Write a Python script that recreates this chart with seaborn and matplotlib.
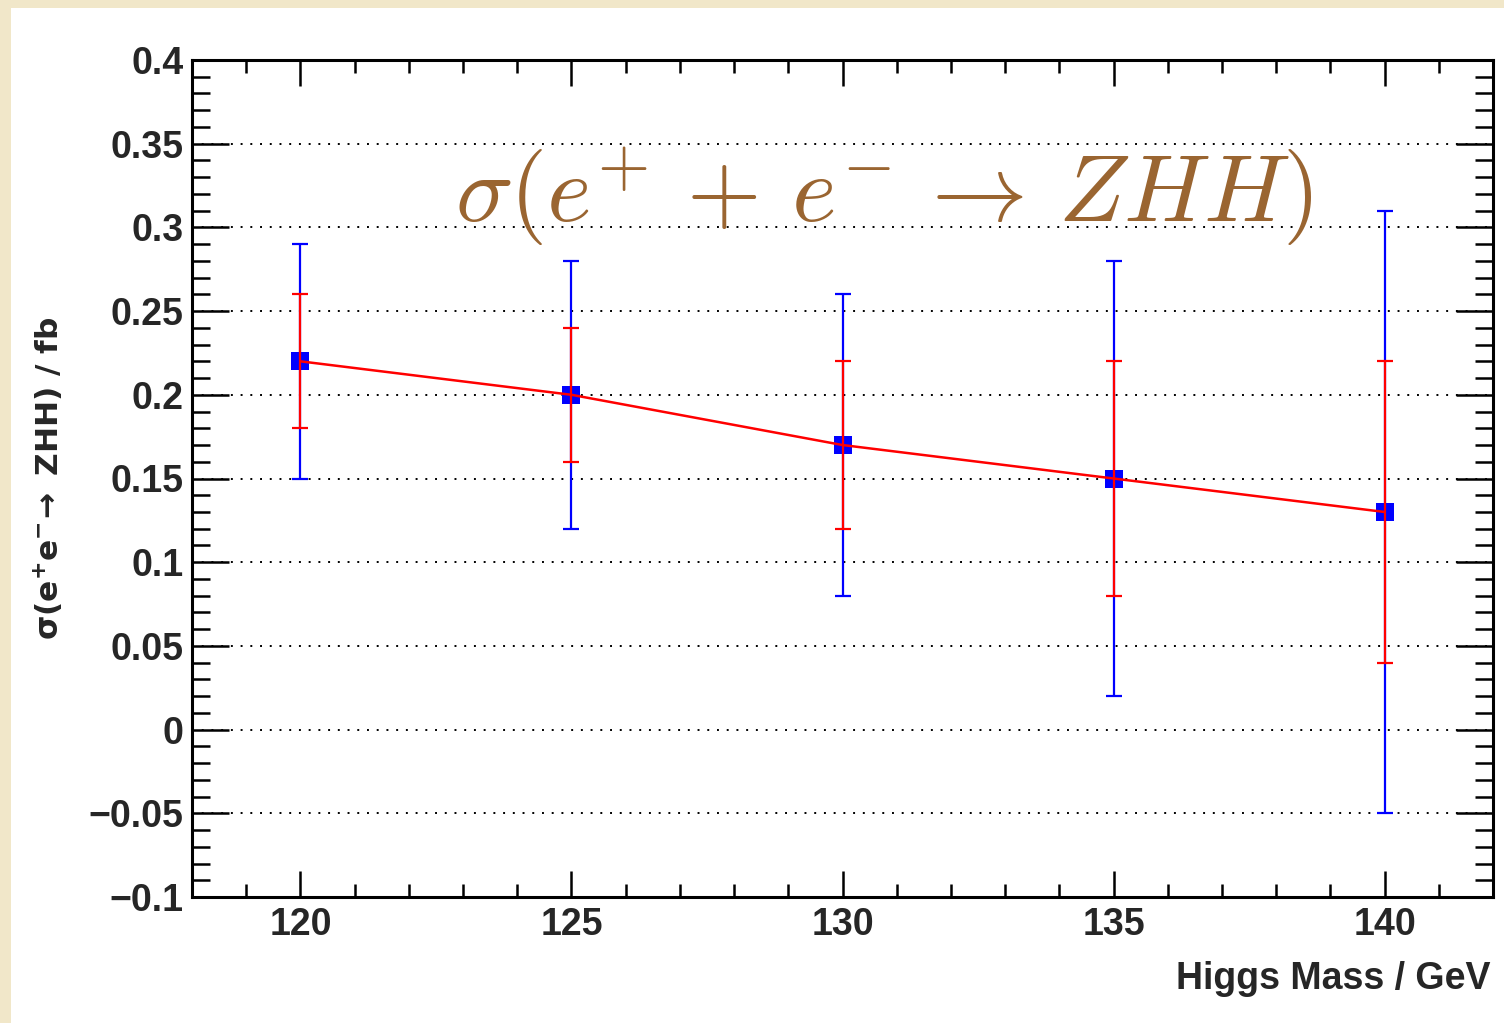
import numpy as np
import pandas as pd
import matplotlib
matplotlib.use("Agg")
import matplotlib.pyplot as plt
from matplotlib.ticker import MultipleLocator
from matplotlib.patches import Rectangle
import seaborn as sns

# Higgs mass points and cross sections
higgs_mass = [120, 125, 130, 135, 140]
xsec = [0.22, 0.20, 0.17, 0.15, 0.13]
# Larger (blue) and smaller (red) uncertainty bands
err_blue = [0.07, 0.08, 0.09, 0.13, 0.18]
err_red = [0.04, 0.04, 0.05, 0.07, 0.09]

df = pd.DataFrame({"mass": higgs_mass, "xsec": xsec})

sns.set_theme(style="white")
plt.rcParams["font.family"] = ["Liberation Sans", "DejaVu Sans"]
plt.rcParams["font.weight"] = "bold"

fig = plt.figure(figsize=(15.04, 10.23), dpi=100, facecolor="#F1E7C9")
fig.patches.append(Rectangle((11 / 1504, 0), 1, 1 - 8 / 1023, transform=fig.transFigure,
                             facecolor="white", edgecolor="none", zorder=-10))
ax = fig.add_axes([192 / 1504, 1 - 897 / 1023, (1493 - 192) / 1504, (897 - 60) / 1023])
ax.set_zorder(5)
ax.set_facecolor("white")

# error bars: blue (outer) first, red (inner) on top
ax.errorbar(higgs_mass, xsec, yerr=err_blue, fmt="none", ecolor="#0000FF",
            elinewidth=1.6, capsize=5.8, capthick=1.6, zorder=3)
sns.scatterplot(data=df, x="mass", y="xsec", marker="s", s=150, color="#0000FF",
                edgecolor="#0000FF", linewidth=0, ax=ax, zorder=4)
ax.errorbar(higgs_mass, xsec, yerr=err_red, fmt="none", ecolor="#FF0000",
            elinewidth=1.6, capsize=5.8, capthick=1.6, zorder=5)
sns.lineplot(data=df, x="mass", y="xsec", color="#FF0000", linewidth=1.8, ax=ax, zorder=6)

ax.set_xlim(118, 142)
ax.set_ylim(-0.1, 0.4)

ax.xaxis.set_major_locator(MultipleLocator(5))
ax.xaxis.set_minor_locator(MultipleLocator(1))
ax.yaxis.set_minor_locator(MultipleLocator(0.01))
ax.set_yticks(np.round(np.arange(-0.1, 0.401, 0.05), 2))
ax.set_yticklabels(["−0.1", "−0.05", "0", "0.05", "0.1", "0.15", "0.2", "0.25", "0.3", "0.35", "0.4"])

ax.tick_params(axis="x", which="major", direction="in", length=18.5, width=1.8,
               top=True, bottom=True, labelsize=27, pad=7, color="black")
ax.tick_params(axis="x", which="minor", direction="in", length=9.3, width=1.8,
               top=True, bottom=True, color="black")
ax.tick_params(axis="y", which="major", direction="in", length=26.5, width=1.8,
               left=True, right=True, labelsize=27, pad=6, color="black")
ax.tick_params(axis="y", which="minor", direction="in", length=13, width=1.8,
               left=True, right=True, color="black")
for lbl in ax.get_xticklabels() + ax.get_yticklabels():
    lbl.set_fontweight("bold")

for sp in ax.spines.values():
    sp.set_visible(True)
    sp.set_color("black")
    sp.set_linewidth(2.2)

ax.grid(False)
ax.yaxis.grid(True, which="major", linestyle=(0, (1, 4)), linewidth=1.4, color="black")
ax.set_axisbelow(True)

ax.set_xlabel("Higgs Mass / GeV", fontsize=27, fontweight="bold", ha="right")
ax.xaxis.set_label_coords(0.998, -0.076)
ax.set_ylabel(r"$\mathrm{\sigma}\mathbf{(e^{+}e^{-}}\!\rightarrow\mathbf{\ ZHH)\ /\ fb}$",
              fontsize=22.5, math_fontfamily="dejavusans")
ax.yaxis.set_label_coords(-0.097, 0.5)

ax.text(130.76, 0.3030, r"$\sigma(e^{+}\,+\,e^{-}\,\rightarrow\,ZHH)$", fontsize=69,
        color="#9A6531", ha="center", va="baseline", math_fontfamily="cm", zorder=7)

fig.savefig("out.png", dpi=100, facecolor=fig.get_facecolor())
